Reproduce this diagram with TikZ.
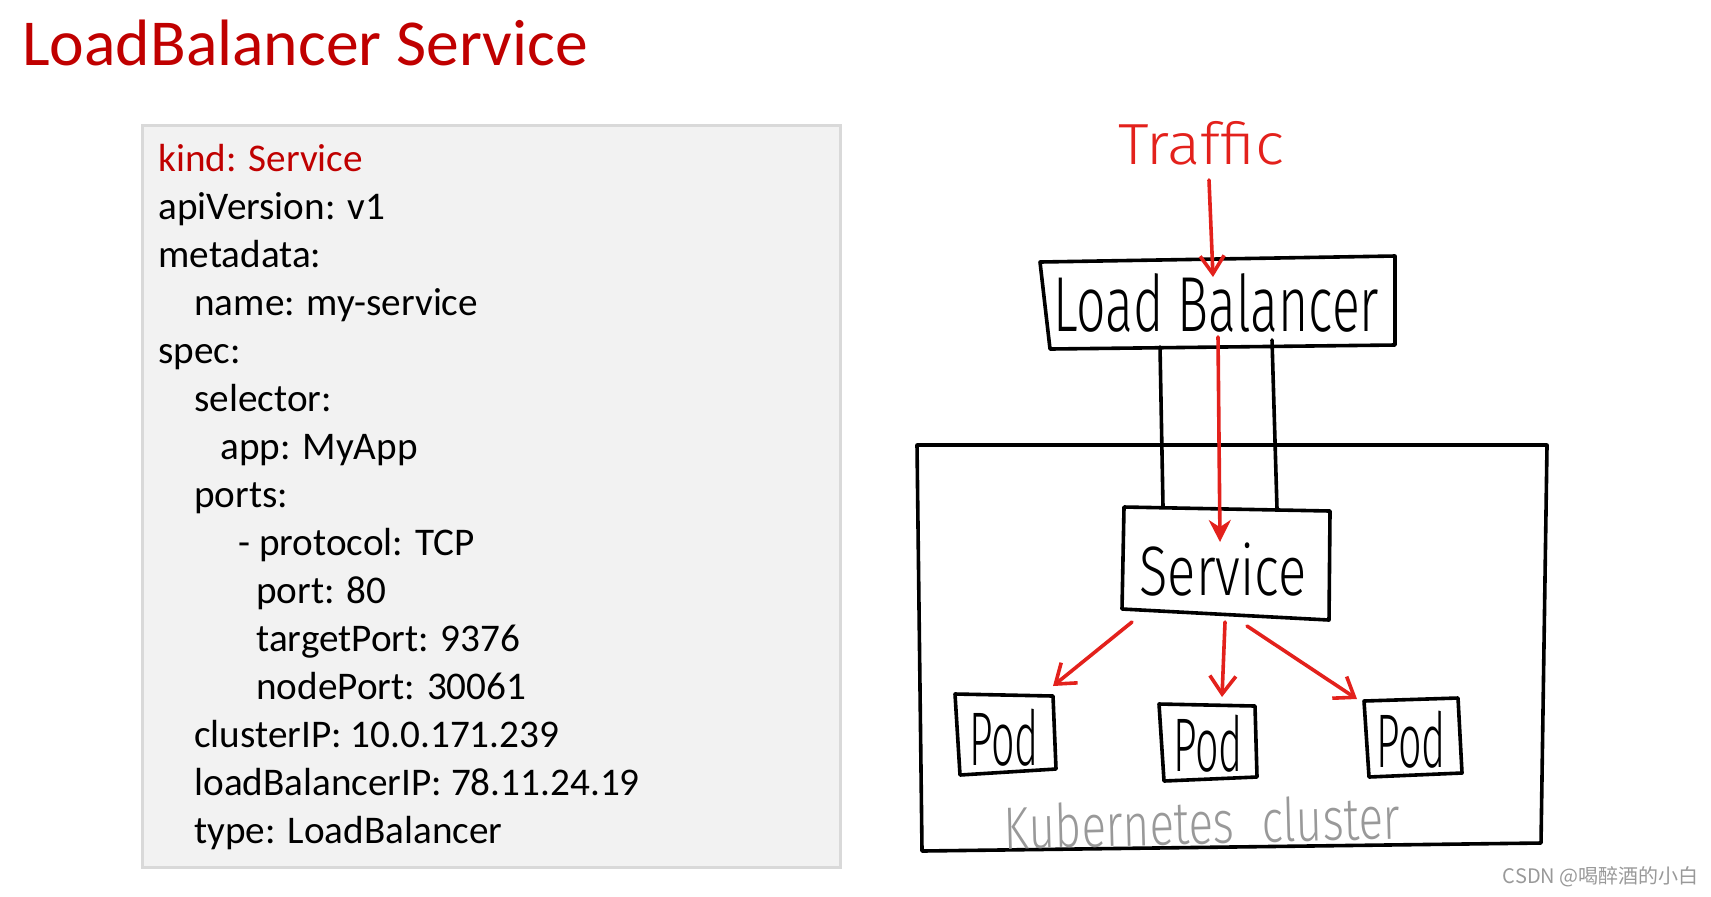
\documentclass[tikz,border=0pt]{standalone}
\usepackage{fontspec}
\usepackage{graphicx}
\setmainfont{Carlito}
\IfFontExistsTF{Fira Sans Light}{\newfontfamily\handfont{Fira Sans Light}}{\newfontfamily\handfont{Fira Sans}}
\newfontfamily\cjkfont{Noto Sans CJK SC}
\usetikzlibrary{arrows.meta}
\definecolor{titlered}{HTML}{C00000}
\definecolor{inkred}{HTML}{E3211C}
\definecolor{codebg}{HTML}{F2F2F2}
\definecolor{codeframe}{HTML}{D9D9D9}
\definecolor{clustergray}{HTML}{999999}
\newcommand{\hw}[3]{\resizebox{#2}{\height}{\fontsize{#1}{#1}\selectfont\handfont #3}}
\tikzset{
  codeline/.style={anchor=base west, inner sep=0pt, font=\fontsize{19.6}{22}\selectfont},
  inkline/.style={draw=black, line width=1.8pt, line join=round, line cap=round},
  redarrow/.style={draw=inkred, line width=1.8pt, line cap=round},
  handtext/.style={inner sep=0pt, anchor=center},
}
\begin{document}
\begin{tikzpicture}[x=0.5pt,y=-0.5pt]
\useasboundingbox (0,0) rectangle (1711,896);
% title
\node[anchor=base west, inner sep=0pt, text=titlered, font=\fontsize{32.8}{36}\selectfont] (title) at (22,65) {LoadBalancer Service};
% code box
\draw[fill=codebg, draw=codeframe, line width=1.5pt] (142,125) rectangle (840,867);
\node[codeline, text=titlered] (l1) at (158,171) {kind: Service};
\node[codeline] (l2) at (158,219) {apiVersion: v1};
\node[codeline] (l3) at (158,267) {metadata:};
\node[codeline] (l4) at (194,315) {name: my-service};
\node[codeline] (l5) at (158,363) {spec:};
\node[codeline] (l6) at (194,411) {selector:};
\node[codeline] (l7) at (220,459) {app: MyApp};
\node[codeline] (l8) at (194,507) {ports:};
\node[codeline] (l9) at (238,555) {- protocol: TCP};
\node[codeline] (l10) at (256,603) {port: 80};
\node[codeline] (l11) at (256,651) {targetPort: 9376};
\node[codeline] (l12) at (256,699) {nodePort: 30061};
\node[codeline] (l13) at (194,747) {clusterIP: 10.0.171.239};
\node[codeline] (l14) at (194,795) {loadBalancerIP: 78.11.24.19};
\node[codeline] (l15) at (194,843) {type: LoadBalancer};

% cluster box
\draw[inkline] (917,445) -- (1547,445) -- (1541,843) -- (922,851) -- cycle;
% load balancer box
\draw[inkline, fill=white] (1040,262) -- (1395,256) -- (1395,345) -- (1050,349) -- cycle;
% service box
\draw[inkline, fill=white] (1124,507) -- (1330,511) -- (1329,620) -- (1122,609) -- cycle;
% pods
\draw[inkline] (955,694) -- (1053,696) -- (1056,769) -- (960,775) -- cycle;
\draw[inkline] (1159,704) -- (1255,706) -- (1257,777) -- (1164,781) -- cycle;
\draw[inkline] (1364,701) -- (1458,698) -- (1462,773) -- (1369,777) -- cycle;

% texts
\node[handtext, text=inkred] (traffic) at (1201,143) {\hw{29}{83pt}{Traffic}};
\node[handtext] (lb) at (1216,303) {\hw{39}{163pt}{Load Balancer}};
\node[handtext] (svc) at (1223,570) {\hw{35}{83.5pt}{Service}};
\node[handtext] (pod1) at (1004,738) {\hw{38}{35pt}{Pod}};
\node[handtext] (pod2) at (1208,744) {\hw{38}{35pt}{Pod}};
\node[handtext] (pod3) at (1411,740) {\hw{38}{35pt}{Pod}};
\node[handtext, text=clustergray, rotate=1.5] (k8s) at (1202,822) {\hw{30}{198pt}{Kubernetes\hspace{0.6em}cluster}};
\node[anchor=base east, inner sep=0pt, text=gray!80, font=\cjkfont\fontsize{10}{12}\selectfont] (wm) at (1699,883) {CSDN @喝醉酒的小白};

% black wires from LB to service
\coordinate (w1a) at (1160,347);
\coordinate (w1b) at (1163,507);
\coordinate (w2a) at (1272,340);
\coordinate (w2b) at (1277,509);
\draw[inkline] (w1a) -- (w1b);
\draw[inkline] (w2a) -- (w2b);

% red arrows
\coordinate (t0) at (1209,180);
\coordinate (t1) at (1213,277);
\draw[redarrow, -{Straight Barb[length=9pt,width=12pt,line width=1.8pt]}] (t0) -- (t1);
\coordinate (s0) at (1218,337);
\coordinate (s1) at (1220,542);
\draw[redarrow, -{Stealth[length=11pt,width=11pt]}] (s0) -- (s1);
\coordinate (p1a) at (1132,622);
\coordinate (p1b) at (1053,686);
\coordinate (p2a) at (1225,622);
\coordinate (p2b) at (1222,697);
\coordinate (p3a) at (1247,626);
\coordinate (p3b) at (1357,699);
\draw[redarrow, -{Straight Barb[length=9pt,width=13pt,line width=1.8pt]}] (p1a) -- (p1b);
\draw[redarrow, -{Straight Barb[length=9pt,width=13pt,line width=1.8pt]}] (p2a) -- (p2b);
\draw[redarrow, -{Straight Barb[length=9pt,width=13pt,line width=1.8pt]}] (p3a) -- (p3b);
\end{tikzpicture}
\end{document}
